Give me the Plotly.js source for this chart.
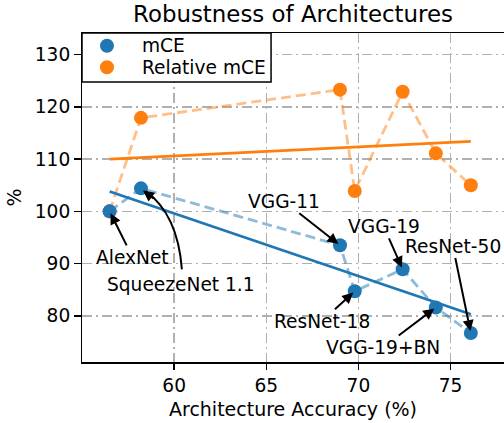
<!DOCTYPE html>
<html>
<head>
<meta charset="utf-8">
<script src="https://cdn.plot.ly/plotly-3.0.1.min.js"></script>
<style>html,body{margin:0;padding:0;background:#fff;}#chart{width:504px;height:423px;}</style>
</head>
<body>
<div id="chart"></div>
<script>
// Data (sorted by accuracy)
const architectures = ["AlexNet", "SqueezeNet 1.1", "VGG-11", "ResNet-18", "VGG-19", "VGG-19+BN", "ResNet-50"];
const accuracy = [56.5, 58.2, 69.0, 69.8, 72.4, 74.2, 76.1];
const mCE = [100.0, 104.4, 93.5, 84.7, 88.9, 81.6, 76.7];
const relativeMCE = [100.0, 117.9, 123.3, 103.9, 122.9, 111.1, 105.0];
// Fitted trend lines at the accuracy extremes
const fitX = [56.5, 76.1];
const fitMCE = [103.8, 80.3];
const fitRelative = [110.0, 113.4];
const xTicks = [60, 65, 70, 75];
const yTicks = [80, 90, 100, 110, 120, 130];
const seriesNames = ["mCE", "Relative mCE"];

const BLUE = "#1f77b4", ORANGE = "#ff7f0e";
const FONT = "DejaVu Sans";
const FS = 18.6;

const traces = [
  {x: accuracy, y: relativeMCE, mode: "lines", showlegend: false, hoverinfo: "skip",
   line: {color: "rgba(255,127,14,0.5)", width: 2.8, dash: "10px,5px"}},
  {x: accuracy, y: mCE, mode: "lines", showlegend: false, hoverinfo: "skip",
   line: {color: "rgba(31,119,180,0.5)", width: 2.8, dash: "10px,5px"}},
  {x: accuracy, y: relativeMCE, mode: "markers", name: seriesNames[1], showlegend: false,
   marker: {color: ORANGE, size: 14}},
  {x: accuracy, y: mCE, mode: "markers", name: seriesNames[0], showlegend: false,
   marker: {color: BLUE, size: 14}},
  {x: fitX, y: fitMCE, mode: "lines", showlegend: false, line: {color: BLUE, width: 2.8}},
  {x: fitX, y: fitRelative, mode: "lines", showlegend: false, line: {color: ORANGE, width: 2.8}}
];

// label offsets (pixels, text centre relative to point)
const labelOffsets = {
  "AlexNet": [23, 46, true],
  "SqueezeNet 1.1": [40, 96, false],
  "VGG-11": [-56, -44, true],
  "ResNet-18": [-33, 30, true],
  "VGG-19": [-19, -43, true],
  "VGG-19+BN": [-53, 40, true],
  "ResNet-50": [-18, -87, true]
};

const annotations = [];
architectures.forEach((name, i) => {
  const o = labelOffsets[name];
  if (o[2]) {
    annotations.push({x: accuracy[i], y: mCE[i], xref: "x", yref: "y", text: name,
      showarrow: true, ax: o[0], ay: o[1], arrowhead: 2, arrowsize: 1.1, arrowwidth: 2,
      arrowcolor: "#000", standoff: 2, font: {family: FONT, size: FS, color: "#000"}});
  } else {
    annotations.push({x: accuracy[i], y: mCE[i], xref: "x", yref: "y", text: name,
      showarrow: false, xshift: o[0], yshift: -o[1], font: {family: FONT, size: FS, color: "#000"}});
    // arrow head for the curved connector
    annotations.push({x: 58.31, y: 104.0, xref: "x", yref: "y", text: "", showarrow: true,
      ax: 12, ay: 9, arrowhead: 2, arrowsize: 1.1, arrowwidth: 2, arrowcolor: "#000", standoff: 0});
  }
});

// manual legend (paper coordinates)
const legendRows = [0.9614, 0.8957];
const legendColors = [BLUE, ORANGE];
seriesNames.forEach((n, i) => {
  annotations.push({x: 0.1374, y: legendRows[i], xref: "paper", yref: "paper", text: n,
    showarrow: false, xanchor: "left", yanchor: "middle", font: {family: FONT, size: FS, color: "#000"}});
});

const shapes = [
  {type: "path", xref: "x", yref: "y", layer: "above",
   path: "M 60.42 88.89 Q 60.20 99.41 58.45 103.9",
   line: {color: "#000", width: 2}},
  {type: "rect", xref: "paper", yref: "paper", x0: 0, x1: 0.448, y0: 0.851, y1: 1,
   fillcolor: "#fff", line: {color: "#000", width: 1.5}, layer: "above"}
];
seriesNames.forEach((n, i) => {
  shapes.push({type: "circle", xref: "paper", yref: "paper", xsizemode: "pixel", ysizemode: "pixel",
    xanchor: 0.0592, yanchor: legendRows[i], x0: -7, x1: 7, y0: -7, y1: 7,
    fillcolor: legendColors[i], line: {width: 0}, layer: "above"});
});

const layout = {
  width: 504, height: 423,
  margin: {l: 82, r: 0, t: 33, b: 61},
  paper_bgcolor: "#fff", plot_bgcolor: "#fff",
  font: {family: FONT, size: FS, color: "#000"},
  title: {text: "Robustness of Architectures", font: {family: FONT, size: 22.9, color: "#000"},
          x: 0.5, xref: "paper", y: 0.967, yanchor: "middle"},
  xaxis: {range: [55.0, 77.9], tickvals: xTicks, ticktext: xTicks.map(String),
          showline: true, linecolor: "#000", linewidth: 1.5, mirror: true,
          ticks: "outside", ticklen: 6.5, tickwidth: 1.5, tickcolor: "#000",
          showgrid: true, gridcolor: "#b0b0b0", gridwidth: 1.5, griddash: "10px,4px,2px,4px",
          zeroline: false, tickfont: {family: FONT, size: FS},
          title: {text: "Architecture Accuracy (%)", font: {family: FONT, size: 19}, standoff: 7}},
  yaxis: {range: [71.15, 134.15], tickvals: yTicks, ticktext: yTicks.map(String),
          showline: true, linecolor: "#000", linewidth: 1.5, mirror: false,
          ticks: "outside", ticklen: 6.5, tickwidth: 1.5, tickcolor: "#000",
          showgrid: true, gridcolor: "#b0b0b0", gridwidth: 1.5, griddash: "10px,4px,2px,4px",
          zeroline: false, tickfont: {family: FONT, size: FS},
          title: {text: "%", font: {family: FONT, size: 19}, standoff: 8}},
  shapes: shapes,
  annotations: annotations,
  showlegend: false
};

Plotly.newPlot("chart", traces, layout, {displayModeBar: false, staticPlot: true});
</script>
</body>
</html>
